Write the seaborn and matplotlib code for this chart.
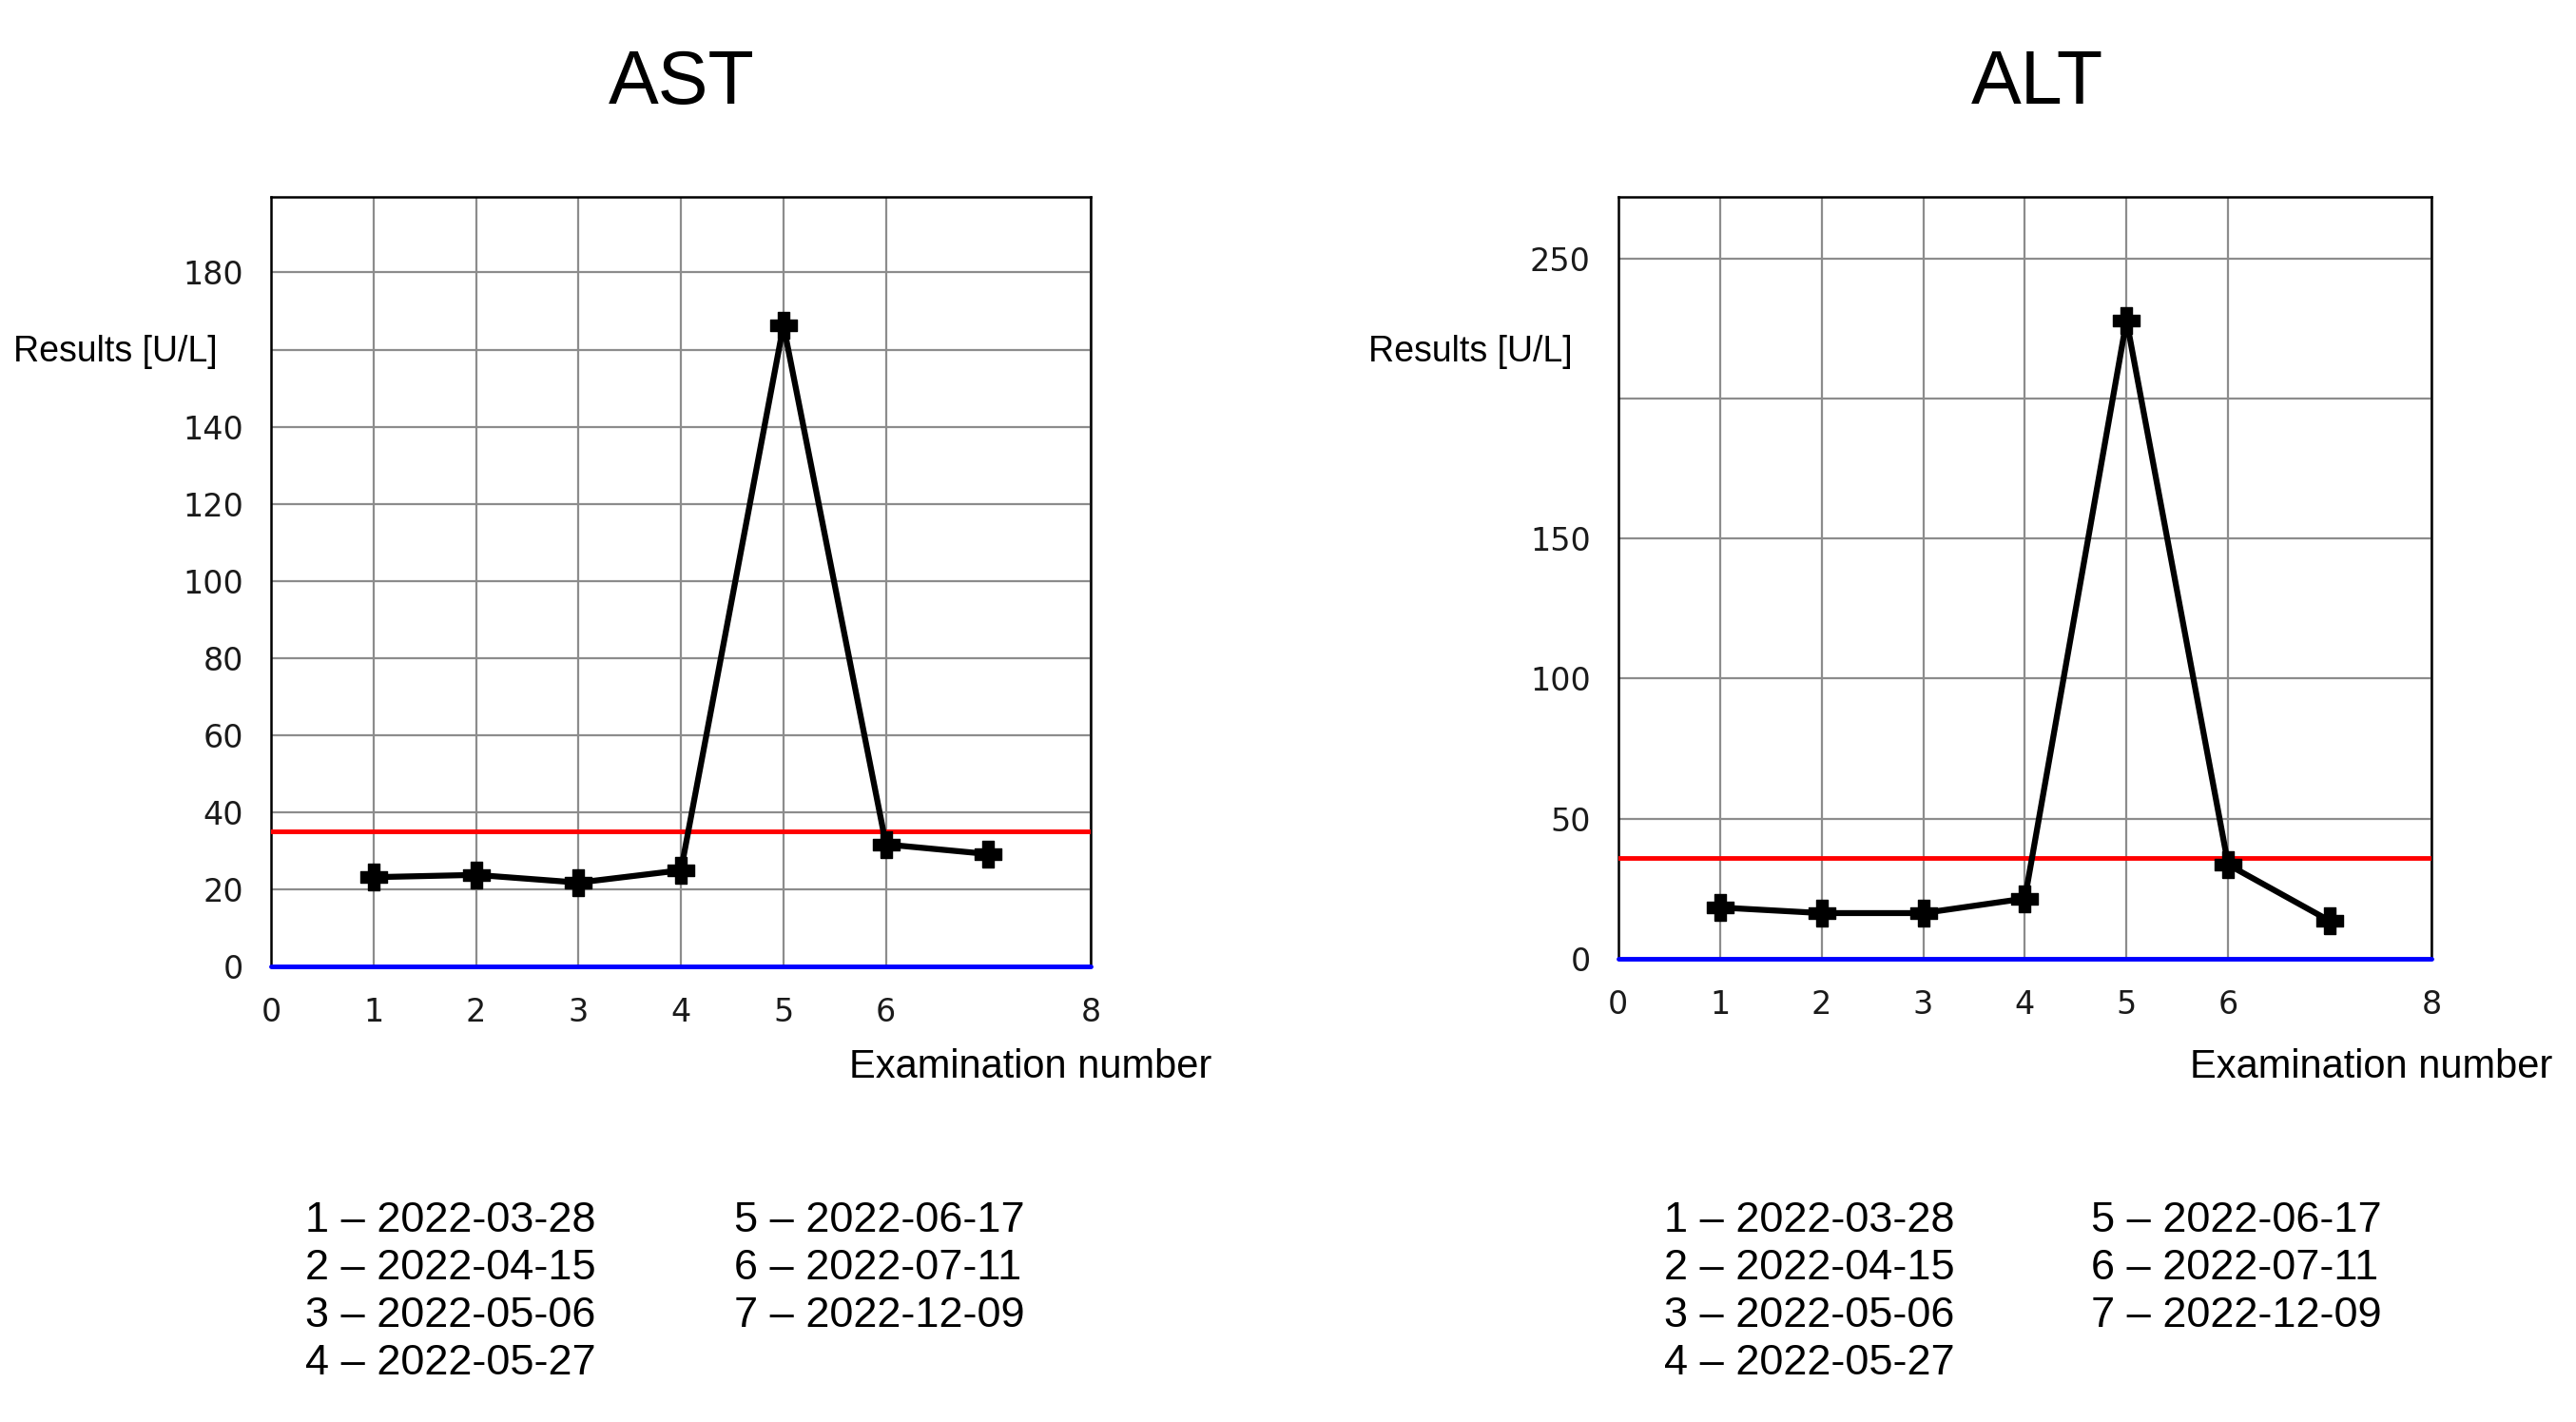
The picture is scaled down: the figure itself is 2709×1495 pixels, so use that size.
import matplotlib
matplotlib.use("Agg")
import matplotlib.pyplot as plt
from matplotlib.path import Path
import seaborn as sns
import pandas as pd

# === DATA ===
exam_no = [1, 2, 3, 4, 5, 6, 7]
ast_values = [23.2, 23.8, 21.8, 25.0, 166.3, 31.7, 29.2]
alt_values = [18.2, 16.2, 16.2, 21.4, 228.0, 33.5, 13.4]
ast_upper_limit = 35
alt_upper_limit = 36
lower_limit = 0
exam_dates = ["2022-03-28", "2022-04-15", "2022-05-06", "2022-05-27",
              "2022-06-17", "2022-07-11", "2022-12-09"]
ast_yticks = [0, 20, 40, 60, 80, 100, 120, 140, 160, 180]
ast_ylabels = ["0", "20", "40", "60", "80", "100", "120", "140", "", "180"]
alt_yticks = [0, 50, 100, 150, 200, 250]
alt_ylabels = ["0", "50", "100", "150", "", "250"]
xticks = [0, 1, 2, 3, 4, 5, 6, 8]

# === STYLE ===
sns.set_style("white")
plt.rcParams["font.family"] = ["Liberation Sans", "DejaVu Sans"]
plt.rcParams["text.color"] = "black"

fig = plt.figure(figsize=(27.09, 14.95), dpi=100)

TEXT_FONT = ["Liberation Sans", "DejaVu Sans"]
TICK_FONT = ["DejaVu Sans"]

# chunky plus marker (square with notched corners)
a, b = 0.45, 1.0
cross = Path([(-a, -b), (a, -b), (a, -a), (b, -a), (b, a), (a, a), (a, b),
              (-a, b), (-a, a), (-b, a), (-b, -a), (-a, -a), (-a, -b)])


def draw_panel(rect, title, values, upper, ymax, yticks, ylabels, title_x, ylab_x, leg_x):
    ax = fig.add_axes(rect)
    df = pd.DataFrame({"Exam": exam_no, "Value": values})
    ax.axhline(upper, color="#ff0000", lw=3.5, zorder=3)
    ax.axhline(lower_limit, color="#0000ff", lw=3.5, zorder=3, clip_on=False)
    sns.lineplot(data=df, x="Exam", y="Value", color="black", lw=4.5,
                 marker=cross, markersize=20, markeredgecolor="black", markeredgewidth=1,
                 ax=ax, zorder=4)
    ax.set_xlim(0, 8)
    ax.set_ylim(0, ymax)
    ax.set_xticks(xticks)
    ax.set_xticklabels([str(t) for t in xticks], family=TICK_FONT, fontsize=24, color="#1a1a1a")
    ax.set_yticks(yticks)
    ax.set_yticklabels(ylabels, family=TICK_FONT, fontsize=24, color="#1a1a1a")
    ax.tick_params(axis="both", direction="out", length=9, width=1.8, color="black", pad=14)
    ax.tick_params(axis="y", pad=12)
    ax.grid(True, color="#8c8c8c", lw=1.6)
    ax.set_axisbelow(True)
    for sp in ax.spines.values():
        sp.set_color("black")
        sp.set_linewidth(1.8)
    ax.set_xlabel("")
    ax.set_ylabel("")

    fig.text(title_x, 0.941, title, ha="center", va="center", fontsize=57, family=TEXT_FONT)
    fig.text(rect[0] + rect[2] + 0.047, 0.2495, "Examination number", ha="right", va="center",
             fontsize=30, family=TEXT_FONT)
    fig.text(ylab_x, 0.7525, "Results [U/L]", ha="left", va="center", fontsize=27, family=TEXT_FONT)

    line_y = [0.1415, 0.1080, 0.0745, 0.0410]
    for i, d in enumerate(exam_dates):
        col = 0 if i < 4 else 1
        row = i if i < 4 else i - 4
        fig.text(leg_x[col], line_y[row], f"{i + 1} \u2013 {d}", ha="left", va="center",
                 fontsize=32.5, family=TEXT_FONT)
    return ax


draw_panel([0.1052, 0.3202, 0.3183, 0.5411], "AST", ast_values, ast_upper_limit, 199.5,
           ast_yticks, ast_ylabels, 0.2647, 0.0051, [0.1186, 0.2851])
draw_panel([0.6282, 0.3260, 0.3157, 0.5353], "ALT", alt_values, alt_upper_limit, 272,
           alt_yticks, alt_ylabels, 0.7908, 0.5312, [0.6460, 0.8119])

fig.savefig("out.png", dpi=100)
